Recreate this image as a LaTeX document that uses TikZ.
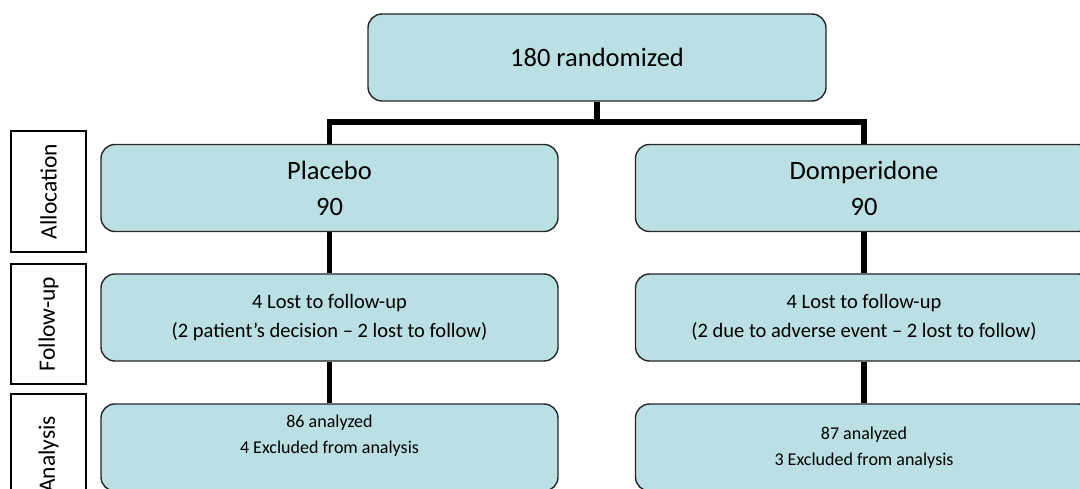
\documentclass[tikz,border=0pt]{standalone}
\usepackage{fontspec}
\setmainfont{Carlito}
\begin{document}
\begin{tikzpicture}[x=1pt,y=-1pt,
  box/.style={draw=black!85,line width=1.4pt,fill=boxfill,rounded corners=14pt,
    inner sep=0pt,minimum width=457pt,minimum height=87pt,align=center},
  side/.style={draw=black,line width=1.4pt,inner sep=0pt,minimum width=75pt,
    minimum height=121pt},
  sidetext/.style={rotate=90,font=\fontsize{23.5}{28}\selectfont},
  conn/.style={line width=5.5pt,black},
  big/.style={font=\fontsize{26.5}{36}\selectfont},
  mid/.style={font=\fontsize{20.5}{29}\selectfont},
  small/.style={font=\fontsize{18}{26}\selectfont}]
\definecolor{boxfill}{RGB}{186,224,227}
\useasboundingbox (0,0) rectangle (1080,489);
\fill[white] (0,0) rectangle (1080,489);
% main boxes
\node[box,big,minimum width=458pt] (top) at (597,57.5) {180 randomized};
\node[box,big] (pla) at (329.5,188) {Placebo\\90};
\node[box,big] (dom) at (864,188) {Domperidone\\90};
\node[box,mid] (plf) at (329.5,317.5) {4 Lost to follow-up\\(2 patient’s decision – 2 lost to follow)};
\node[box,mid] (dof) at (864,317.5) {4 Lost to follow-up\\(2 due to adverse event – 2 lost to follow)};
\node[box,small] (pan) at (329.5,447.5) {86 analyzed\\4 Excluded from analysis\\\mbox{}};
\node[box,small] (dan) at (864,447.5) {87 analyzed\\3 Excluded from analysis};
% side labels
\node[side] (s1) at (48.5,191.5) {};
\node[sidetext] (t1) at (s1.center) {Allocation};
\node[side,minimum height=120pt] (s2) at (48.5,324) {};
\node[sidetext] (t2) at (s2.center) {Follow-up};
\node[side] (s3) at (48.5,454.5) {};
\node[sidetext] (t3) at (s3.center) {Analysis};
% connectors
\coordinate (j) at (597,122);
\draw[conn] (top.south) -- (j);
\draw[conn] (pla.north) |- (j) -| (dom.north);
\draw[conn] (pla.south) -- (plf.north);
\draw[conn] (plf.south) -- (pan.north);
\draw[conn] (dom.south) -- (dof.north);
\draw[conn] (dof.south) -- (dan.north);
\end{tikzpicture}
\end{document}
